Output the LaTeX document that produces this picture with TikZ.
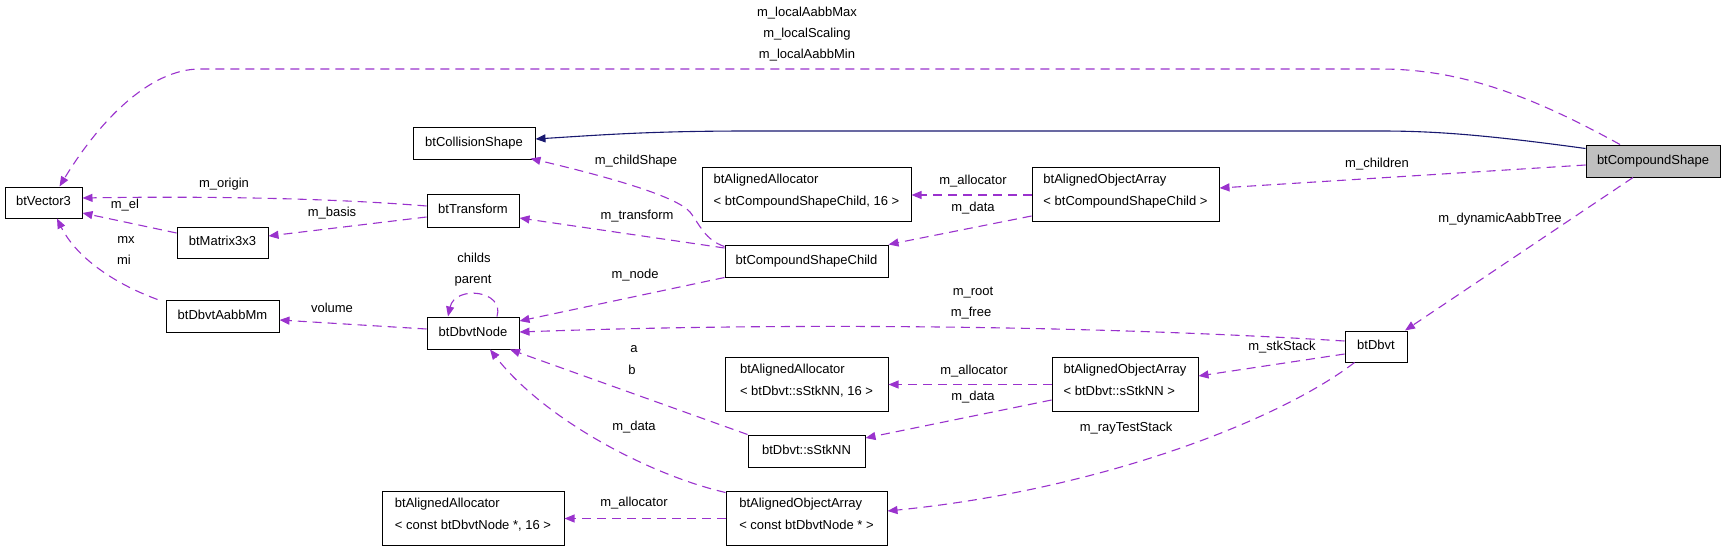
\documentclass[tikz,border=0pt]{standalone}
\usepackage{fontspec}
\setmainfont{Liberation Sans}
\usetikzlibrary{arrows.meta,calc}
\definecolor{deppurple}{HTML}{9A32CD}
\definecolor{inhnavy}{HTML}{191970}
\definecolor{selgrey}{HTML}{BFBFBF}
\newcommand\gvfont{\fontsize{13}{15}\selectfont}
\newcommand\gvfonttwo{\fontsize{13}{22}\selectfont}
\newcommand\gvdown{\rule[-8.7pt]{0pt}{8.7pt}}
\begin{document}
\begin{tikzpicture}[x=1pt,y=-1pt,
  cls/.style={draw=black, line width=1pt, inner sep=0pt, font=\gvfont, text height=9.4pt, text depth=2.7pt},
  two/.style={draw=black, line width=1pt, inner sep=0pt, minimum width=#1, minimum height=54pt, align=left, font=\gvfonttwo},
  lbl/.style={inner sep=0pt, font=\gvfont, text height=9.4pt, text depth=2.7pt},
  dep/.style={draw=deppurple, line width=1.1pt, dash pattern=on 9pt off 6pt, -{Triangle[length=10pt,width=8pt]}, deppurple},
  inh/.style={draw=inhnavy, line width=1.1pt, -{Triangle[length=10pt,width=8pt]}, inhnavy}
]
\useasboundingbox (0,0) rectangle (1725,549);
% nodes
\node[cls, minimum width=77pt, minimum height=31pt] (vec) at (43.5,202.5) {btVector3};
\node[cls, minimum width=122pt, minimum height=32pt] (coll) at (474,143) {btCollisionShape};
\node[cls, minimum width=92pt, minimum height=33pt] (trans) at (473,210.5) {btTransform};
\node[cls, minimum width=91pt, minimum height=31pt] (mat) at (222.5,242.5) {btMatrix3x3};
\node[cls, minimum width=113pt, minimum height=32pt] (aabb) at (222.5,316) {btDbvtAabbMm};
\node[cls, minimum width=92pt, minimum height=32pt] (dnode) at (473,333) {btDbvtNode};
\node[two=209pt] (aaCSC) at (806.5,194.5) {btAlignedAllocator\\< btCompoundShapeChild, 16 >\gvdown};
\node[two=187pt] (aoaCSC) at (1125.5,194.5) {btAlignedObjectArray\\< btCompoundShapeChild >\gvdown};
\node[cls, minimum width=163pt, minimum height=32pt] (csc) at (806.5,261) {btCompoundShapeChild};
\node[cls, fill=selgrey, minimum width=134pt, minimum height=32pt] (cs) at (1653,161) {btCompoundShape};
\node[cls, minimum width=62pt, minimum height=31pt] (dbvt) at (1376,346.5) {btDbvt};
\node[two=163pt] (aaS) at (806.5,384) {btAlignedAllocator\\< btDbvt::sStkNN, 16 >\gvdown};
\node[two=146pt] (aoaS) at (1125,384) {btAlignedObjectArray\\< btDbvt::sStkNN >\gvdown};
\node[cls, minimum width=117pt, minimum height=32pt] (stk) at (806.5,451) {btDbvt::sStkNN};
\node[two=182pt] (aaC) at (473,518) {btAlignedAllocator\\< const btDbvtNode *, 16 >\gvdown};
\node[two=161pt] (aoaC) at (806.5,518) {btAlignedObjectArray\\< const btDbvtNode * >\gvdown};
% labels
\node[lbl] (lmax) at (807,13) {m\_localAabbMax};
\node[lbl] (lscal) at (807,34) {m\_localScaling};
\node[lbl] (lmin) at (807,55) {m\_localAabbMin};
\node[lbl] (lchildren) at (1377,164) {m\_children};
\node[lbl] (ldyn) at (1500,219) {m\_dynamicAabbTree};
\node[lbl] (lalloc1) at (973,181) {m\_allocator};
\node[lbl] (ldata1) at (973,208) {m\_data};
\node[lbl] (lchildshape) at (636,161) {m\_childShape};
\node[lbl] (ltransform) at (637,216) {m\_transform};
\node[lbl] (lnode) at (635,275) {m\_node};
\node[lbl] (lorigin) at (224,184) {m\_origin};
\node[lbl] (lbasis) at (332,213) {m\_basis};
\node[lbl] (lel) at (125,205) {m\_el};
\node[lbl] (lmx) at (126,240) {mx};
\node[lbl] (lmi) at (124,261) {mi};
\node[lbl] (lvolume) at (332,309) {volume};
\node[lbl] (lchilds) at (474,259) {childs};
\node[lbl] (lparent) at (473,280) {parent};
\node[lbl] (lroot) at (973,292) {m\_root};
\node[lbl] (lfree) at (971,313) {m\_free};
\node[lbl] (lstk) at (1282,347) {m\_stkStack};
\node[lbl] (lalloc2) at (974,371) {m\_allocator};
\node[lbl] (ldata2) at (973,397) {m\_data};
\node[lbl] (lray) at (1126,428) {m\_rayTestStack};
\node[lbl] (la) at (634,349) {a};
\node[lbl] (lb) at (632,371) {b};
\node[lbl] (ldata3) at (634,427) {m\_data};
\node[lbl] (lalloc3) at (634,503) {m\_allocator};
% connectors
\draw[dep] ($(cs.north)+(-33,0)$) .. controls (1530,95) and (1460,69) .. (1380,69) -- (200,69) .. controls (150,69) and (100,120) .. ($(vec.north)+(16,0)$);
\draw[inh] ($(cs.north west)+(0,4)$) .. controls (1480,134) and (1430,131) .. (1380,131) -- (750,131) .. controls (650,131) and (600,135) .. ($(coll.east)+(0,-4)$);
\draw[dep] ($(cs.west)+(0,4)$) -- ($(aoaCSC.east)+(0,-6.5)$);
\draw[dep] ($(cs.south)+(-20,0)$) -- ($(dbvt.north)+(29,0)$);
\draw[dep] ($(aoaCSC.west)+(0,0.5)$) -- ($(aaCSC.east)+(0,0.5)$);
\draw[dep] ($(aoaCSC.west)+(0,21.5)$) -- (csc.north east);
\draw[dep] ($(csc.north west)+(0,2)$) .. controls (705,240) and (700,225) .. (690,212) .. controls (675,195) and (600,175) .. ($(coll.south east)+(-5,-1)$);
\draw[dep] ($(csc.west)+(0,-13)$) -- ($(trans.east)+(0,7.5)$);
\draw[dep] (csc.south west) -- ($(dnode.east)+(0,-12)$);
\draw[dep] ($(trans.west)+(0,-4.5)$) .. controls (330,198) and (200,196) .. ($(vec.east)+(0,-4.5)$);
\draw[dep] ($(trans.west)+(0,6.5)$) -- ($(mat.east)+(0,-6.5)$);
\draw[dep] ($(mat.west)+(0,-9.5)$) -- ($(vec.east)+(0,10.5)$);
\draw[dep] ($(aabb.north west)+(-8,0)$) .. controls (110,282) and (75,255) .. ($(vec.south)+(13.5,0)$);
\draw[dep] ($(dnode.west)+(0,-4)$) -- ($(aabb.east)+(0,4)$);
\draw[dep] ($(dnode.north)+(24,0)$) .. controls (505,290) and (455,285) .. ($(dnode.north)+(-25,0)$);
\draw[dep] ($(dbvt.west)+(0,-5.5)$) .. controls (1100,326) and (800,322) .. ($(dnode.east)+(0,-1)$);
\draw[dep] ($(dbvt.west)+(0,7.5)$) -- ($(aoaS.east)+(0,-8)$);
\draw[dep] ($(dbvt.south west)+(10,0)$) .. controls (1280,420) and (1100,490) .. ($(aoaC.east)+(0,-7)$);
\draw[dep] ($(aoaS.west)+(0,0.5)$) -- ($(aaS.east)+(0,0.5)$);
\draw[dep] ($(aoaS.west)+(0,16)$) -- ($(stk.east)+(0,-13)$);
\draw[dep] (stk.north west) -- ($(dnode.south)+(37,0)$);
\draw[dep] ($(aoaC.north west)+(0,2)$) .. controls (650,475) and (545,420) .. ($(dnode.south)+(17,0)$);
\draw[dep] ($(aoaC.west)+(0,0.5)$) -- ($(aaC.east)+(0,0.5)$);
\end{tikzpicture}
\end{document}
